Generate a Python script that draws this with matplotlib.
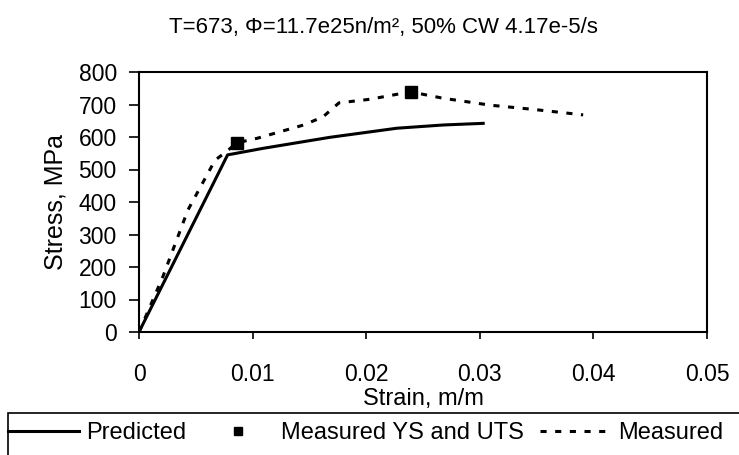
import matplotlib.pyplot as plt
from matplotlib.patches import Rectangle

plt.rcParams['font.family'] = ['Liberation Sans', 'DejaVu Sans']

# predicted stress-strain curve
pred_strain = [0.0, 0.0078, 0.0109, 0.0168, 0.0227, 0.0268, 0.0303]
pred_stress = [0, 545, 565, 599, 627, 637, 642]

# measured stress-strain curve
meas_strain = [0.0, 0.0021, 0.0043, 0.0067, 0.0077, 0.0086, 0.0104, 0.0145,
               0.0162, 0.0176, 0.0203, 0.0239, 0.0268, 0.0278, 0.0309, 0.0347, 0.0391]
meas_stress = [0, 170, 375, 529, 555, 582, 596, 637,
               662, 705, 716, 739, 719, 714, 698, 685, 668]

# measured yield strength and UTS
ys_uts_strain = [0.0086, 0.0239]
ys_uts_stress = [582, 739]

xticks = [0, 0.01, 0.02, 0.03, 0.04, 0.05]
xticklabels = ['0', '0.01', '0.02', '0.03', '0.04', '0.05']
yticks = [0, 100, 200, 300, 400, 500, 600, 700, 800]

fig = plt.figure(figsize=(7.39, 4.55), dpi=100)
ax = fig.add_axes([139 / 739, 1 - 332 / 455, 568 / 739, 260 / 455])

l1, = ax.plot(pred_strain, pred_stress, color='black', lw=2.2, label='Predicted')
l2, = ax.plot(ys_uts_strain, ys_uts_stress, 's', color='black', ms=8,
              label='Measured YS and UTS')
l3, = ax.plot(meas_strain, meas_stress, color='black', lw=2.2,
              linestyle=(0, (2, 2.8)), label='Measured')

ax.set_xlim(0, 0.05)
ax.set_ylim(0, 800)
ax.set_xticks(xticks)
ax.set_xticklabels(xticklabels)
ax.set_yticks(yticks)
ax.tick_params(direction='out', width=1.2, labelsize=16.5)
ax.tick_params(axis='y', length=7, pad=9)
ax.tick_params(axis='x', length=5, pad=17)
for s in ax.spines.values():
    s.set_linewidth(1.5)

ax.set_xlabel('Strain, m/m', fontsize=17, labelpad=2)
ax.set_ylabel('Stress, MPa', fontsize=18, labelpad=8)
fig.text(383 / 739, 1 - 27 / 455, 'T=673, \u03a6=11.7e25n/m\u00b2, 50% CW 4.17e-5/s',
         ha='center', va='center', fontsize=16)

# legend box running off the bottom right of the figure
fig.add_artist(Rectangle((8 / 739, -0.1), 1.0, 0.1 + 1 - 413 / 455,
                         transform=fig.transFigure, fill=False, lw=1.2,
                         edgecolor='black'))
fig.legend(handles=[l1, l2, l3], loc='center left',
           bbox_to_anchor=(17 / 739 - 0.012, 1 - 433 / 455), ncol=3, frameon=False,
           fontsize=17, handlelength=3.0, columnspacing=0.7, handletextpad=0.3,
           markerscale=0.8, borderaxespad=0, borderpad=0)

fig.savefig('out.png', dpi=100)
